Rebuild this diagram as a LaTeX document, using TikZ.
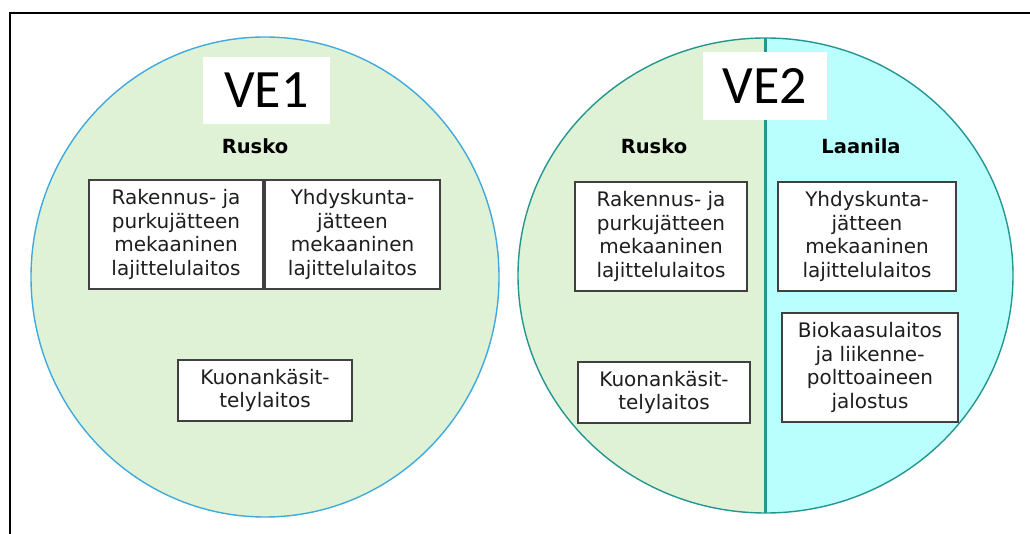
\documentclass[tikz,border=0pt]{standalone}
\usepackage{fontspec}
\setmainfont{DejaVu Sans}
\newfontfamily\headfont{Carlito}
\definecolor{ringblue}{RGB}{64,170,222}
\definecolor{ringteal}{RGB}{36,150,146}
\definecolor{leafgreen}{RGB}{223,242,214}
\definecolor{aqua}{RGB}{184,255,253}
\definecolor{boxgray}{RGB}{64,64,64}
\definecolor{textblack}{RGB}{30,30,30}
\begin{document}
\begin{tikzpicture}[x=1pt,y=-1pt,
  plant/.style={draw=boxgray, line width=1.1pt, fill=white, align=center,
    font=\fontsize{20}{23.5}\selectfont, text=textblack, inner sep=0pt},
  site/.style={font=\bfseries\fontsize{19.5}{22}\selectfont, text=black, inner sep=0pt},
  tag/.style={fill=white, font=\headfont\fontsize{54}{54}\selectfont, text=black, inner sep=0pt}]
\useasboundingbox (0,0) rectangle (1030,534);
\fill[white] (0,0) rectangle (1030,534);

% outer frame (open to the right and bottom)
\draw[line width=2pt] (10,534) -- (10,13) -- (1030,13);

% VE1: one site
\draw[ringblue, fill=leafgreen, line width=1.4pt] (265,277) ellipse [x radius=234, y radius=240];

% VE2: two sites side by side
\begin{scope}
  \clip (765.5,275.5) ellipse [x radius=247.5, y radius=237.5];
  \fill[leafgreen] (500,0) rectangle (765.5,534);
  \fill[aqua] (765.5,0) rectangle (1030,534);
\end{scope}
\draw[ringteal, line width=1.4pt] (765.5,275.5) ellipse [x radius=247.5, y radius=237.5];
\coordinate (splittop) at (765.5,38);
\coordinate (splitbot) at (765.5,513);
\draw[ringteal, line width=2.5pt] (splittop) -- (splitbot);

% option labels
\node[tag, minimum width=127pt, minimum height=67pt] (ve1) at (266.5,90.5) {VE1};
\node[tag, minimum width=124pt, minimum height=68pt] (ve2) at (765,86) {VE2};

% site names
\node[site] (rusko1) at (255,146.5) {Rusko};
\node[site] (rusko2) at (654,146.5) {Rusko};
\node[site] (laanila) at (861,146.5) {Laanila};

% plants in VE1
\node[plant, minimum width=174pt, minimum height=109pt] (rak1) at (176,234.5)
  {Rakennus- ja\\purkujätteen\\mekaaninen\\lajittelulaitos};
\node[plant, minimum width=175pt, minimum height=109pt] (yhd1) at (352.5,234.5)
  {Yhdyskunta-\\jätteen\\mekaaninen\\lajittelulaitos};
\node[plant, minimum width=174pt, minimum height=61pt] (kuo1) at (265,390.5)
  {Kuonankäsit-\\telylaitos};

% plants in VE2
\node[plant, minimum width=172pt, minimum height=109pt] (rak2) at (661,236.5)
  {Rakennus- ja\\purkujätteen\\mekaaninen\\lajittelulaitos};
\node[plant, minimum width=172pt, minimum height=61pt] (kuo2) at (664,392.5)
  {Kuonankäsit-\\telylaitos};
\node[plant, minimum width=178pt, minimum height=109pt] (yhd2) at (867,236.5)
  {Yhdyskunta-\\jätteen\\mekaaninen\\lajittelulaitos};
\node[plant, minimum width=176pt, minimum height=109pt] (bio) at (870,367.5)
  {Biokaasulaitos\\ja liikenne-\\polttoaineen\\jalostus};
\end{tikzpicture}
\end{document}
